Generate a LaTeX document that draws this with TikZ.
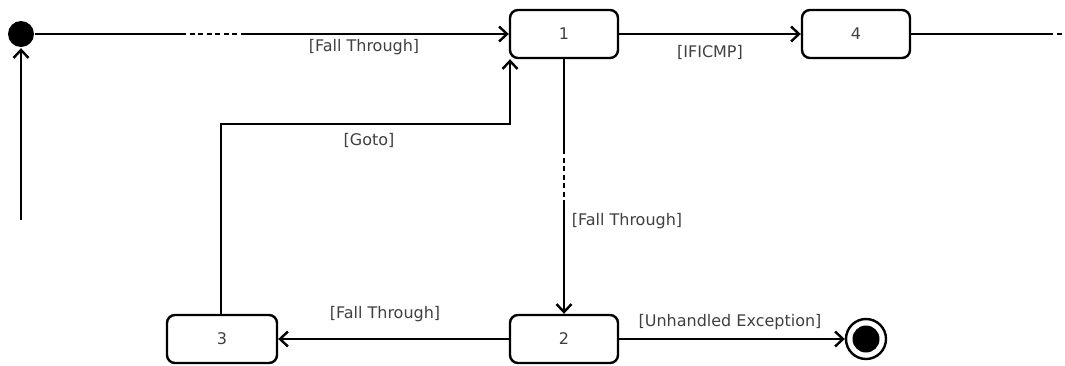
\documentclass[tikz,border=0pt]{standalone}
\usepackage{fontspec}
\setmainfont{DejaVu Sans}
\usetikzlibrary{arrows.meta}
\begin{document}
\begin{tikzpicture}[x=1pt,y=-1pt,
  line width=2.4pt,
  state/.style={draw,rounded corners=8pt,minimum width=108pt,minimum height=48pt,
    inner sep=0pt,font=\fontsize{16}{19}\selectfont,text=black!75},
  lbl/.style={font=\fontsize{16}{19}\selectfont,text=black!75},
  trans/.style={-{Straight Barb[length=8pt,width=15pt,line width=2.4pt]}},
  dash seg/.style={dash pattern=on 5pt off 3.5pt}]
\useasboundingbox (0,0) rectangle (1065,365);

% states
\node[state] (s1) at (564,34) {1};
\node[state] (s4) at (856,34) {4};
\node[state] (s2) at (564,339) {2};
\node[state,minimum width=110pt] (s3) at (222,339) {3};

% pseudo states
\node[circle,fill=black,minimum size=26pt,inner sep=0pt] (init) at (21,34) {};
\node[circle,draw,minimum size=40pt,inner sep=0pt] (final) at (866,339) {};
\fill (final.center) circle (13.5pt);

% helper points
\coordinate (entry) at (21,220);
\coordinate (ta) at (181,34);
\coordinate (tb) at (243,34);
\coordinate (va) at (564,149);
\coordinate (vb) at (564,202);
\coordinate (ra) at (1048,34);
\coordinate (rb) at (1065,34);
\coordinate (g1) at (221,124);
\coordinate (g2) at (510,124);

% entry -> initial
\draw[trans] (entry) -- (init.south);

% initial -> 1 (fall through), with a gap
\draw (init.east) -- (ta);
\draw[dash seg] (ta) -- (tb);
\draw[trans] (tb) -- (s1.west);
\node[lbl] at (364,47) {[Fall Through]};

% 1 -> 4
\draw[trans] (s1.east) -- (s4.west);
\node[lbl] at (710,52) {[IFICMP]};

% 4 -> ...
\draw (s4.east) -- (ra);
\draw[dash seg] (ra) -- (rb);

% 1 -> 2 (fall through), with a gap
\draw (s1.south) -- (va);
\draw[dash seg] (va) -- (vb);
\draw[trans] (vb) -- (s2.north);
\node[lbl] at (627,221) {[Fall Through]};

% 2 -> 3
\draw[trans] (s2.west) -- (s3.east);
\node[lbl] at (385,314) {[Fall Through]};

% 3 -> 1 (goto)
\draw[trans] (s3.north -| g1) -- (g1) -- (g2) -- (g2 |- s1.south);
\node[lbl] at (369,140) {[Goto]};

% 2 -> final
\draw[trans] (s2.east) -- (final.west);
\node[lbl] at (730,322) {[Unhandled Exception]};
\end{tikzpicture}
\end{document}
